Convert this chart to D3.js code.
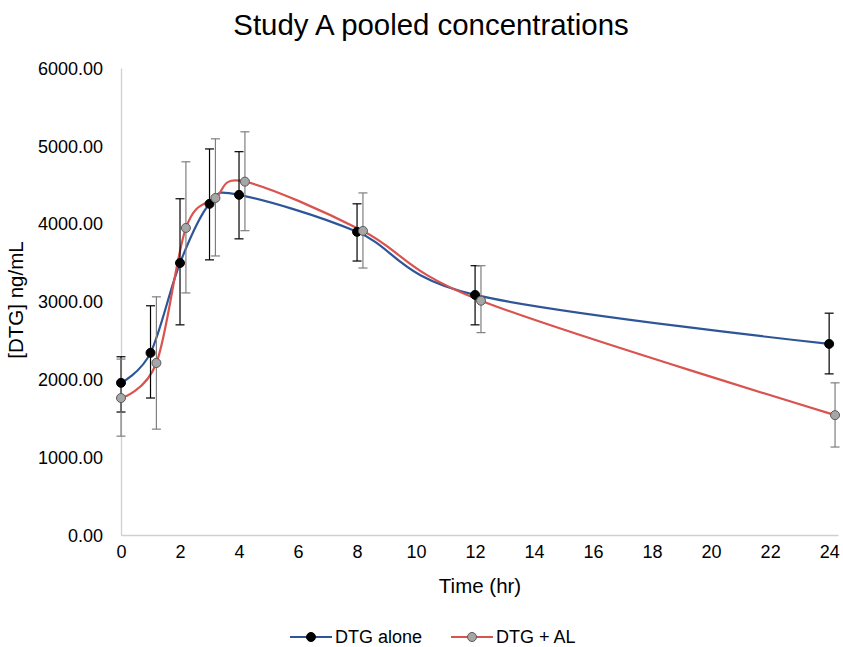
<!DOCTYPE html>
<html>
  <head>
    <meta charset="utf-8">
    <title>Study A pooled concentrations</title>
    <style>
    body{margin: 0; background: #fff}
    text{font-family: "Liberation Sans", Arial, sans-serif; fill: #000}
    </style>
  </head>
  <body>
    <script src="https://d3js.org/d3.v7.min.js"></script>
    <script>
    var W = 843, H = 647

    // data
    var aloneTime = [0, 1, 2, 3, 4, 8, 12, 24]
    var aloneConc = [1955, 2340, 3495, 4255, 4370, 3895, 3085, 2455]
    var aloneHigh = [2290, 2945, 4320, 4960, 4925, 4255, 3460, 2850]
    var aloneLow  = [1580, 1760, 2700, 3535, 3805, 3520, 2700, 2070]

    var alTime = [0, 1.2, 2.2, 3.2, 4.2, 8.2, 12.2, 24.2]
    var alConc = [1760, 2210, 3945, 4330, 4540, 3907, 3010, 1540]
    var alHigh = [2260, 3060, 4795, 5090, 5180, 4395, 3460, 1955]
    var alLow  = [1270, 1360, 3110, 3585, 3910, 3430, 2600, 1130]

    var xTicks = d3.range(0, 25, 2)
    var yTicks = [0, 1000, 2000, 3000, 4000, 5000, 6000]

    var series = [
      {name: 'DTG alone', t: aloneTime, c: aloneConc, hi: aloneHigh, lo: aloneLow,
       line: '#2e5597', fill: '#000', stroke: '#000', bar: '#000'},
      {name: 'DTG + AL', t: alTime, c: alConc, hi: alHigh, lo: alLow,
       line: '#d9534f', fill: '#a6a6a6', stroke: '#595959', bar: '#7f7f7f'}
    ]

    var pLeft = 121, pRight = 838, pTop = 68, pBottom = 535

    var x = d3.scaleLinear().domain([0, 24.3]).range([pLeft, pRight])
    var y = d3.scaleLinear().domain([0, 6000]).range([pBottom, pTop])

    var svg = d3.select('body').append('svg')
      .attr('width', W)
      .attr('height', H)

    svg.append('text')
      .attr('x', 431).attr('y', 35)
      .attr('text-anchor', 'middle')
      .style('font-size', '29.4px')
      .text('Study A pooled concentrations')

    // axes: light lines, no tick marks
    var yAxis = svg.append('g')
      .attr('transform', 'translate(' + pLeft + ',0)')
      .call(d3.axisLeft(y).tickValues(yTicks).tickSize(0).tickPadding(18)
        .tickFormat(d3.format('.2f')))
    var xAxis = svg.append('g')
      .attr('transform', 'translate(0,' + pBottom + ')')
      .call(d3.axisBottom(x).tickValues(xTicks).tickSize(0).tickPadding(10))

    ;[yAxis, xAxis].forEach(function(g){
      g.select('.domain').attr('stroke', '#d0d0d0').attr('stroke-width', 1.3)
      g.selectAll('text').style('font-size', '18px').attr('font-family', null)
    })
    yAxis.selectAll('text').attr('dy', '0.35em')

    svg.append('text')
      .attr('transform', 'translate(23,300) rotate(-90)')
      .attr('text-anchor', 'middle')
      .style('font-size', '20.5px')
      .text('[DTG] ng/mL')

    svg.append('text')
      .attr('x', 480).attr('y', 593)
      .attr('text-anchor', 'middle')
      .style('font-size', '20.5px')
      .text('Time (hr)')

    // excel-style smoothed line
    var line = d3.line()
      .x(function(d){ return x(d[0]) })
      .y(function(d){ return y(d[1]) })
      .curve(d3.curveCatmullRom.alpha(0))

    series.forEach(function(s){
      var pts = s.t.map(function(t, i){ return [t, s.c[i]] })
      svg.append('path')
        .datum(pts)
        .attr('d', line)
        .attr('fill', 'none')
        .attr('stroke', s.line)
        .attr('stroke-width', 2.2)
    })

    series.forEach(function(s){
      var g = svg.append('g').attr('stroke', s.bar).attr('stroke-width', 1.2)
      s.t.forEach(function(t, i){
        var cx = x(t)
        g.append('line').attr('x1', cx).attr('x2', cx)
          .attr('y1', y(s.hi[i])).attr('y2', y(s.lo[i]))
        g.append('line').attr('x1', cx - 4.5).attr('x2', cx + 4.5)
          .attr('y1', y(s.hi[i])).attr('y2', y(s.hi[i]))
        g.append('line').attr('x1', cx - 4.5).attr('x2', cx + 4.5)
          .attr('y1', y(s.lo[i])).attr('y2', y(s.lo[i]))
      })
    })

    series.forEach(function(s){
      svg.append('g').selectAll('circle')
        .data(s.t.map(function(t, i){ return [t, s.c[i]] }))
        .enter().append('circle')
          .attr('cx', function(d){ return x(d[0]) })
          .attr('cy', function(d){ return y(d[1]) })
          .attr('r', 4.5)
          .attr('fill', s.fill)
          .attr('stroke', s.stroke)
          .attr('stroke-width', 1)
    })

    // legend
    var legX = [290, 451]
    series.forEach(function(s, i){
      var g = svg.append('g').attr('transform', 'translate(' + legX[i] + ',637)')
      g.append('line').attr('x1', 0).attr('x2', 42)
        .attr('stroke', s.line).attr('stroke-width', 2.2)
      g.append('circle').attr('cx', 21).attr('r', 4.5)
        .attr('fill', s.fill).attr('stroke', s.stroke)
      g.append('text').attr('x', 45).attr('dy', '0.35em')
        .style('font-size', '18px')
        .text(s.name)
    })
    </script>
  </body>
</html>
